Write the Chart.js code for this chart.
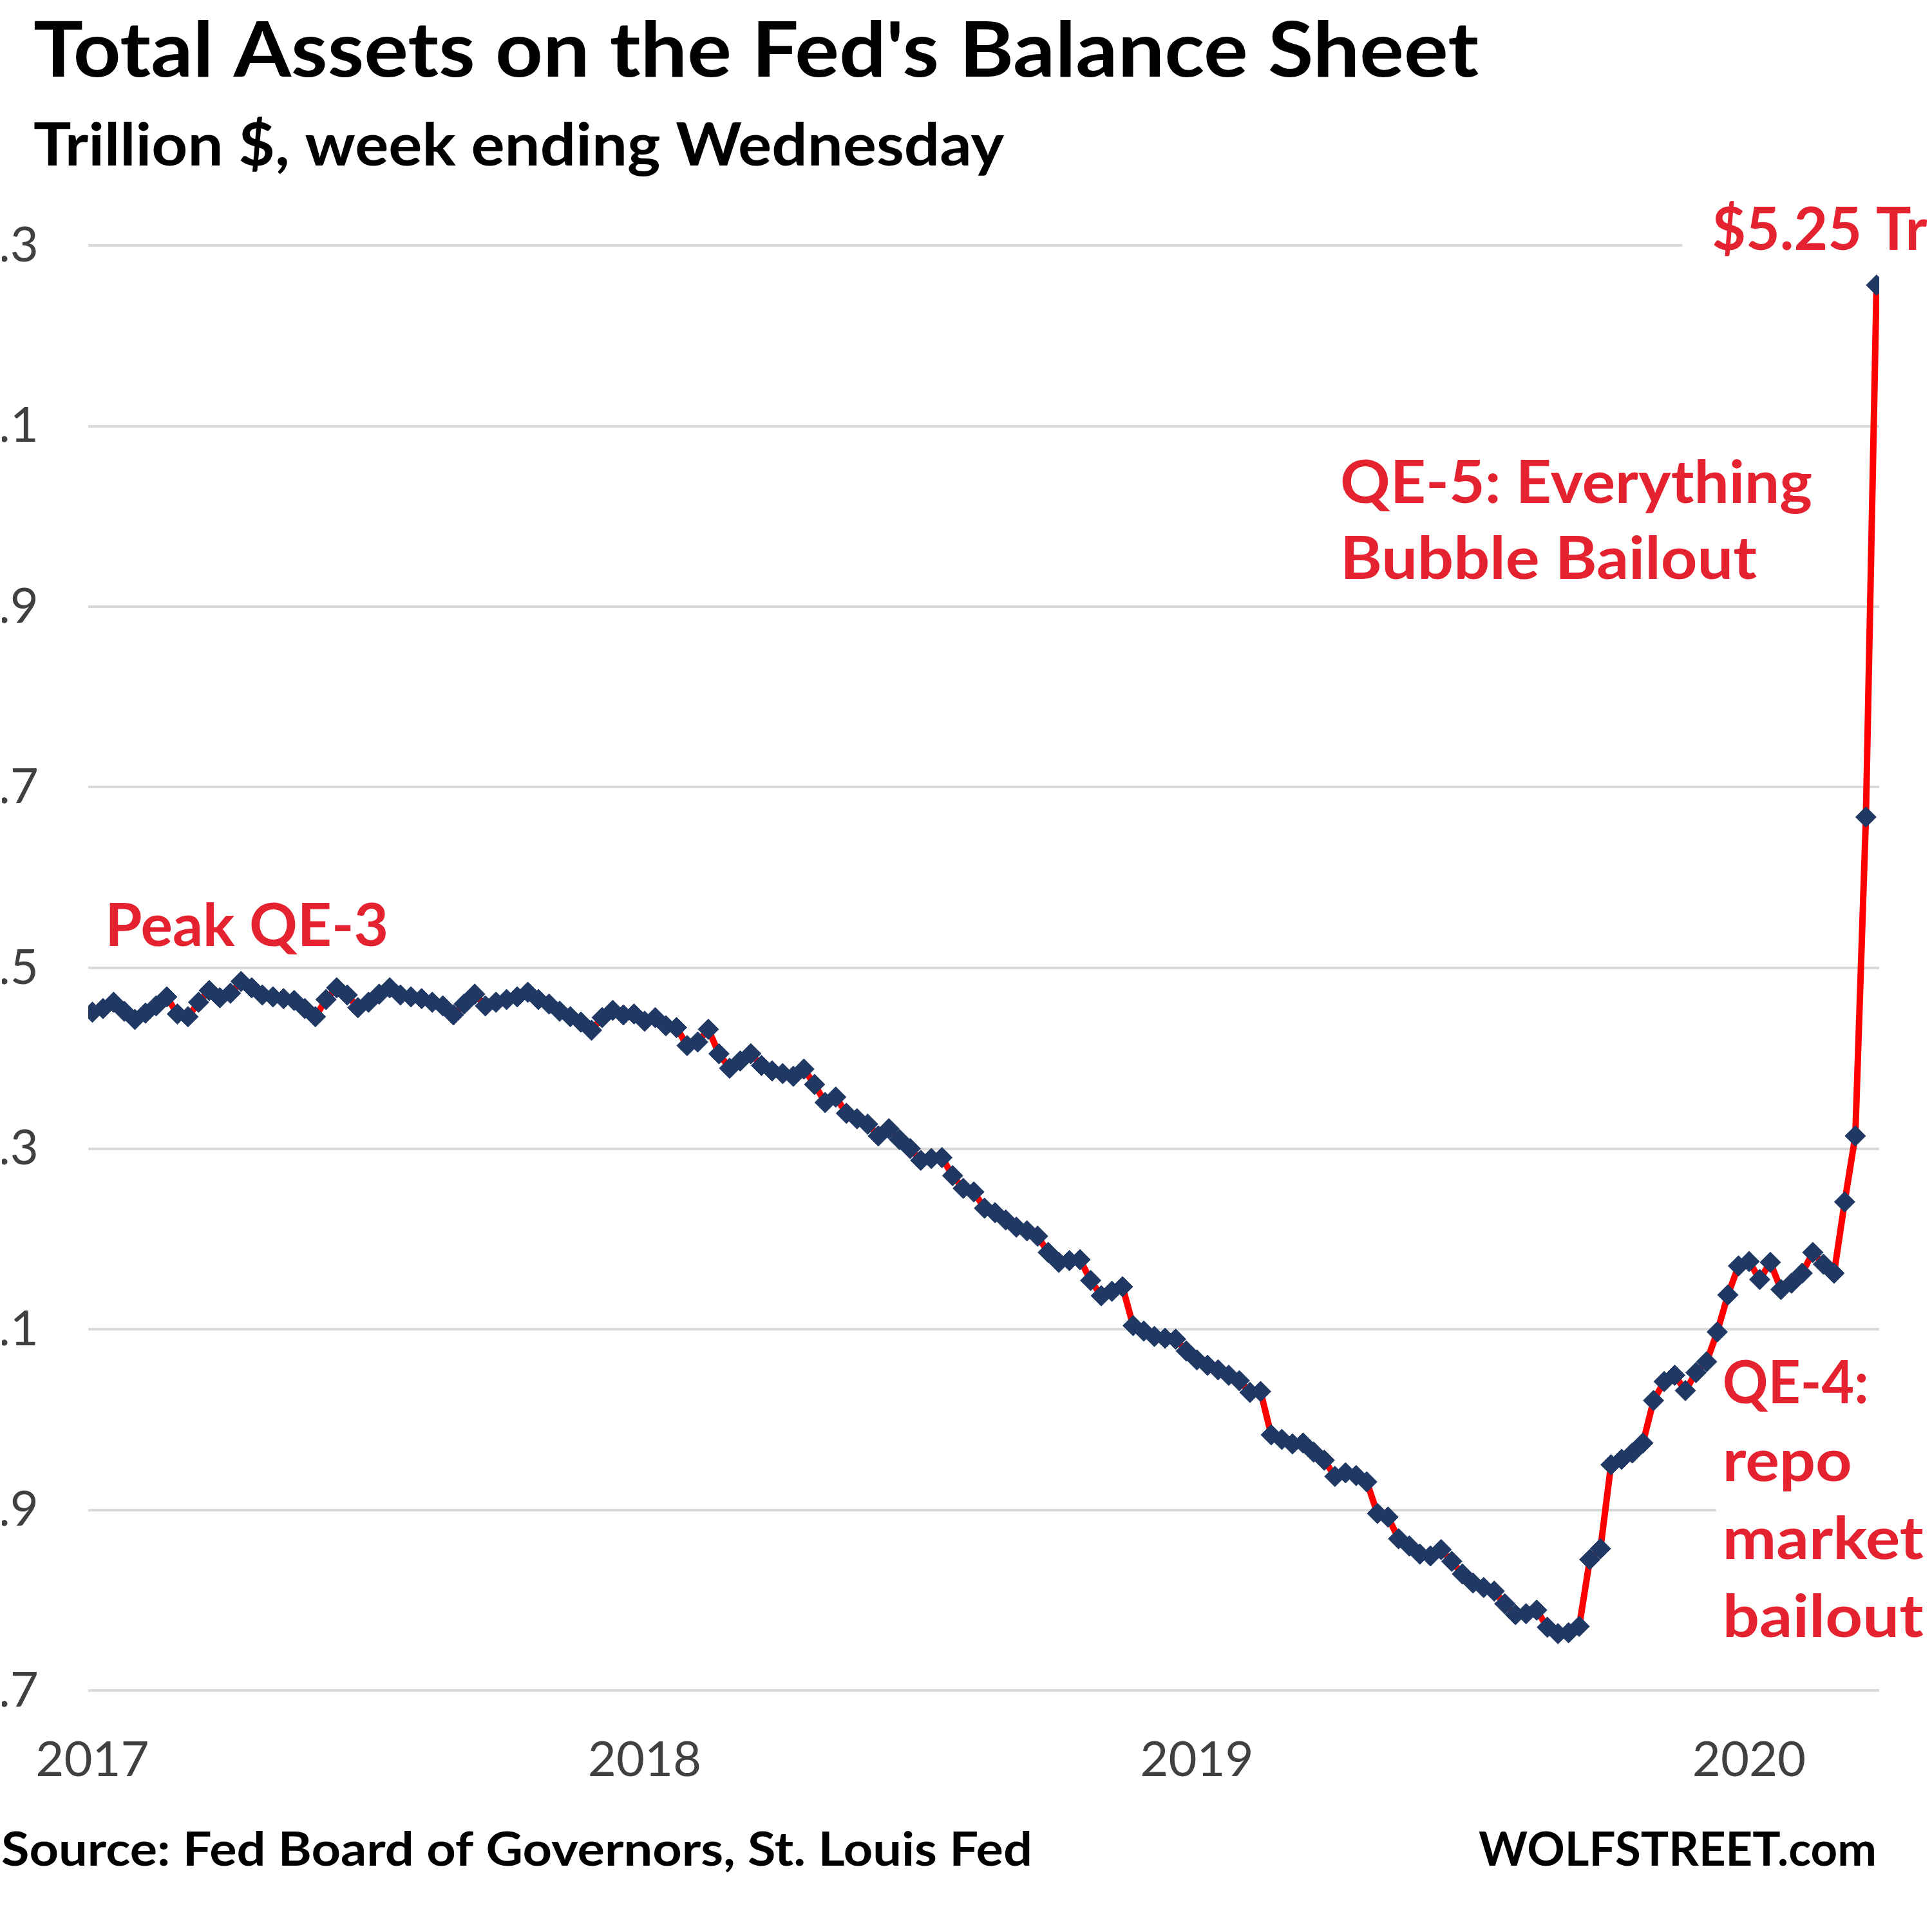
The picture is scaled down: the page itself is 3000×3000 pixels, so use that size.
<!DOCTYPE html>
<html>
<head>
<meta charset="utf-8">
<title>Total Assets on the Fed's Balance Sheet</title>
<script src="https://cdn.jsdelivr.net/npm/chart.js@4.4.1/dist/chart.umd.min.js"></script>
<style>
  html, body { margin: 0; padding: 0; background: #ffffff; }
  #wrap { width: 3000px; height: 3000px; overflow: hidden; }
</style>
</head>
<body>
<div id="wrap"><canvas id="fedChart" width="3000" height="3000"></canvas></div>
<script>
// week ending Wednesday
const weeks2017 = ['2017-01-04','2017-01-11','2017-01-18','2017-01-25','2017-02-01','2017-02-08','2017-02-15','2017-02-22',
  '2017-03-01','2017-03-08','2017-03-15','2017-03-22','2017-03-29','2017-04-05','2017-04-12','2017-04-19','2017-04-26',
  '2017-05-03','2017-05-10','2017-05-17','2017-05-24','2017-05-31','2017-06-07','2017-06-14','2017-06-21','2017-06-28',
  '2017-07-05','2017-07-12','2017-07-19','2017-07-26','2017-08-02','2017-08-09','2017-08-16','2017-08-23','2017-08-30',
  '2017-09-06','2017-09-13','2017-09-20','2017-09-27','2017-10-04','2017-10-11','2017-10-18','2017-10-25',
  '2017-11-01','2017-11-08','2017-11-15','2017-11-22','2017-11-29','2017-12-06','2017-12-13','2017-12-20','2017-12-27'];
const weeks2018 = ['2018-01-03','2018-01-10','2018-01-17','2018-01-24','2018-01-31','2018-02-07','2018-02-14','2018-02-21',
  '2018-02-28','2018-03-07','2018-03-14','2018-03-21','2018-03-28','2018-04-04','2018-04-11','2018-04-18','2018-04-25',
  '2018-05-02','2018-05-09','2018-05-16','2018-05-23','2018-05-30','2018-06-06','2018-06-13','2018-06-20','2018-06-27',
  '2018-07-04','2018-07-11','2018-07-18','2018-07-25','2018-08-01','2018-08-08','2018-08-15','2018-08-22','2018-08-29',
  '2018-09-05','2018-09-12','2018-09-19','2018-09-26','2018-10-03','2018-10-10','2018-10-17','2018-10-24','2018-10-31',
  '2018-11-07','2018-11-14','2018-11-21','2018-11-28','2018-12-05','2018-12-12','2018-12-19','2018-12-26'];
const weeks2019 = ['2019-01-02','2019-01-09','2019-01-16','2019-01-23','2019-01-30','2019-02-06','2019-02-13','2019-02-20',
  '2019-02-27','2019-03-06','2019-03-13','2019-03-20','2019-03-27','2019-04-03','2019-04-10','2019-04-17','2019-04-24',
  '2019-05-01','2019-05-08','2019-05-15','2019-05-22','2019-05-29','2019-06-05','2019-06-12','2019-06-19','2019-06-26',
  '2019-07-03','2019-07-10','2019-07-17','2019-07-24','2019-07-31','2019-08-07','2019-08-14','2019-08-21','2019-08-28',
  '2019-09-04','2019-09-11','2019-09-18','2019-09-25','2019-10-02','2019-10-09','2019-10-16','2019-10-23','2019-10-30',
  '2019-11-06','2019-11-13','2019-11-20','2019-11-27','2019-12-04','2019-12-11','2019-12-18','2019-12-25'];
const weeks2020 = ['2020-01-01','2020-01-08','2020-01-15','2020-01-22','2020-01-29','2020-02-05','2020-02-12','2020-02-19',
  '2020-02-26','2020-03-04','2020-03-11','2020-03-18','2020-03-25'];

// total assets, trillion $
const assets2017 = [4.451, 4.455, 4.462, 4.452, 4.443, 4.450, 4.458, 4.468, 4.449, 4.446, 4.462, 4.475, 4.467,
  4.472, 4.485, 4.478, 4.470, 4.468, 4.466, 4.464, 4.455, 4.446, 4.465, 4.478, 4.470, 4.456,
  4.462, 4.471, 4.478, 4.470, 4.468, 4.466, 4.462, 4.458, 4.448, 4.460, 4.471, 4.458, 4.462,
  4.465, 4.468, 4.473, 4.465, 4.460, 4.452, 4.446, 4.440, 4.431, 4.445, 4.453, 4.448, 4.449];
const assets2018 = [4.441, 4.445, 4.436, 4.434, 4.414, 4.418, 4.432, 4.405, 4.389, 4.397, 4.405, 4.392, 4.386,
  4.383, 4.380, 4.388, 4.371, 4.351, 4.357, 4.339, 4.333, 4.327, 4.314, 4.322, 4.310, 4.300,
  4.287, 4.289, 4.290, 4.270, 4.256, 4.252, 4.234, 4.229, 4.221, 4.213, 4.209, 4.203, 4.185,
  4.174, 4.176, 4.177, 4.154, 4.137, 4.142, 4.147, 4.104, 4.098, 4.092, 4.090, 4.089, 4.076];
const assets2019 = [4.066, 4.060, 4.055, 4.049, 4.043, 4.030, 4.031, 3.983, 3.978, 3.973, 3.974, 3.964, 3.955,
  3.937, 3.941, 3.938, 3.931, 3.896, 3.892, 3.868, 3.860, 3.851, 3.849, 3.856, 3.843, 3.829,
  3.819, 3.814, 3.810, 3.796, 3.784, 3.785, 3.789, 3.770, 3.763, 3.764, 3.771, 3.845, 3.857,
  3.950, 3.956, 3.963, 3.974, 4.021, 4.042, 4.049, 4.032, 4.052, 4.064, 4.097, 4.138, 4.170];
const assets2020 = [4.175, 4.155, 4.174, 4.144, 4.151, 4.162, 4.185, 4.172, 4.162, 4.241, 4.314, 4.667, 5.256];

const yearLabels = ['2017', '2018', '2019', '2020'];
const valueTicks = [3.7, 3.9, 4.1, 4.3, 4.5, 4.7, 4.9, 5.1, 5.3];

const weeks = weeks2017.concat(weeks2018, weeks2019, weeks2020);
const assets = assets2017.concat(assets2018, assets2019, assets2020);
// first week of every year carries the year label
const yearIdx = yearLabels.map(y => weeks.findIndex(d => d.startsWith(y)));

const RED = '#e52330';
const NAVY = '#1f3864';
const FONT = 'Lato, "Open Sans", sans-serif';

// annotation texts, anchored in data units (x = week index, y = trillion $)
const notes = [
  { lines: ['Peak QE-3'], x: 1.2, y: 4.524, widths: [440] },
  { lines: ['QE-5: Everything', 'Bubble Bailout'], x: 117.5, y: 5.015, widths: [733, 647], lh: 118 },
  { lines: ['$5.25 Tr'], x: 152.5, y: 5.295, sx: 1.0, box: { l: 46, t: 90, b: 25 } },
  { lines: ['QE-4:', 'repo', 'market', 'bailout'], x: 153.5, y: 4.018, widths: [227, 201, 312, 312], lh: 121,
    box: { l: 10, t: 80, b: 40 } }
];

function fitText(ctx, str, x, y, size, color, width, sx) {
  ctx.save();
  ctx.font = 'bold ' + size + 'px ' + FONT;
  ctx.fillStyle = color;
  ctx.textBaseline = 'alphabetic';
  ctx.textAlign = 'left';
  const w = ctx.measureText(str).width;
  const k = width ? width / w : (sx || 1);
  ctx.translate(x, y);
  ctx.scale(k, 1);
  ctx.fillText(str, 0, 0);
  ctx.restore();
  return w * k;
}

const textPlugin = {
  id: 'texts',
  beforeDatasetsDraw(chart) {
    const ctx = chart.ctx;
    const xs = chart.scales.x, ys = chart.scales.y;

    // headings and footer
    fitText(ctx, "Total Assets on the Fed's Balance Sheet", 52, 119, 119, '#000000', 2244);
    fitText(ctx, 'Trillion $, week ending Wednesday', 52, 257, 92, '#000000', 1507);
    fitText(ctx, 'Source: Fed Board of Governors, St. Louis Fed', 2, 2897, 73, '#000000', 1601);
    fitText(ctx, 'WOLFSTREET.com', 2296, 2897, 73, '#000000', 618);

    // red notes
    const size = 91;
    notes.forEach(n => {
      const px = xs.getPixelForValue(n.x);
      const py = ys.getPixelForValue(n.y);
      const lh = n.lh || 0;
      if (n.box) {
        ctx.save();
        ctx.fillStyle = '#ffffff';
        ctx.fillRect(px - n.box.l, py - n.box.t, 3000, (n.lines.length - 1) * lh + n.box.t + n.box.b);
        ctx.restore();
      }
      n.lines.forEach((line, i) => {
        fitText(ctx, line, px, py + i * lh, size, RED, n.widths ? n.widths[i] : null, n.sx || 0.93);
      });
    });
  }
};

function drawChart() {
  new Chart(document.getElementById('fedChart'), {
    type: 'line',
    data: {
      datasets: [{
        label: 'Total assets',
        data: assets.map((v, i) => ({ x: i, y: v })),
        borderColor: '#ff0000',
        borderWidth: 10,
        tension: 0,
        pointStyle: 'rectRot',
        pointRadius: 16,
        pointBackgroundColor: NAVY,
        pointBorderColor: NAVY,
        pointBorderWidth: 1
      }]
    },
    options: {
      responsive: false,
      animation: false,
      devicePixelRatio: 1,
      layout: { padding: { top: 381, right: 82, bottom: 0, left: 0 } },
      plugins: {
        legend: { display: false },
        tooltip: { enabled: false }
      },
      scales: {
        x: {
          type: 'linear',
          min: -0.4,
          max: 168.25,
          grid: { display: false },
          border: { display: false },
          afterBuildTicks: s => { s.ticks = yearIdx.map(v => ({ value: v })); },
          afterFit: s => { s.height = 375; },
          ticks: {
            autoSkip: false,
            maxRotation: 0,
            padding: 55,
            color: '#404040',
            font: { family: FONT, size: 76 },
            callback: v => yearLabels[yearIdx.indexOf(v)]
          }
        },
        y: {
          min: 3.7,
          max: 5.3,
          afterBuildTicks: s => { s.ticks = valueTicks.map(v => ({ value: v })); },
          afterFit: s => { s.width = 134; },
          grid: { color: '#d9d9d9', lineWidth: 4, drawTicks: false },
          border: { display: false },
          ticks: {
            padding: 77,
            color: '#404040',
            font: { family: FONT, size: 76 },
            callback: v => v.toFixed(1)
          }
        }
      }
    },
    plugins: [textPlugin]
  });
}

Promise.all([
  document.fonts.load('bold 100px Lato'),
  document.fonts.load('76px Lato')
]).then(drawChart, drawChart);
</script>
</body>
</html>
